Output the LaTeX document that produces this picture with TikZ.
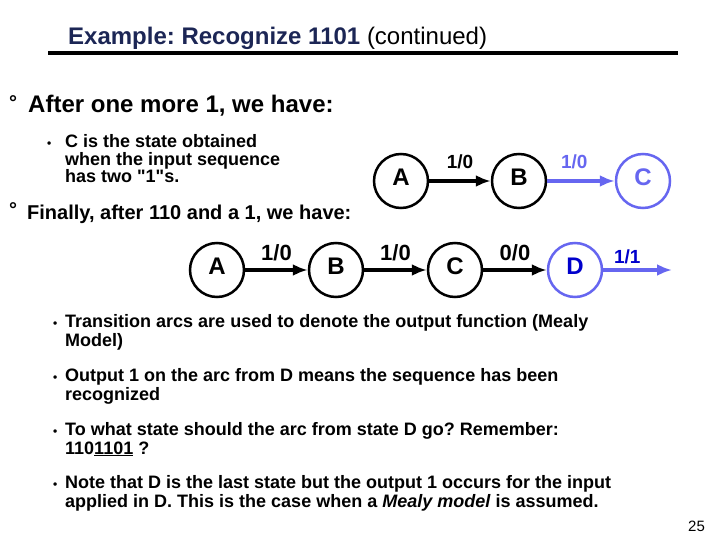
\documentclass[tikz,border=0pt]{standalone}
\usepackage{fontspec}
\setmainfont{Liberation Sans}
\usetikzlibrary{arrows.meta, positioning}

\definecolor{titleblue}{RGB}{28,38,85}
\definecolor{stateblue}{RGB}{102,102,240}
\definecolor{deepblue}{RGB}{0,0,204}

\newcommand{\raiseletter}[1]{\raisebox{4pt}[\height][\depth]{#1}}
\newcommand{\dquote}{\XeTeXglyph\XeTeXglyphindex "quotedbl" }
\frenchspacing

\tikzset{
  state/.style={circle, draw, fill=white, line width=2.5pt, minimum size=54pt,
    inner sep=0pt, font=\fontsize{24}{24}\selectfont\bfseries},
  trans/.style={->, line width=3.5pt},
  lbl/.style={inner sep=1pt, font=\fontsize{22}{22}\selectfont\bfseries},
  txt/.style={anchor=base west, inner sep=0pt, align=left},
  body/.style={txt, font=\fontsize{18}{19}\selectfont\bfseries},
  head/.style={txt, font=\fontsize{20}{20}\selectfont\bfseries},
}

\begin{document}
\begin{tikzpicture}[x=1pt, y=-1pt, >={Latex[length=15pt,width=12pt]}]
    \useasboundingbox (0,0) rectangle (720,540);

    % Titel
    \node[txt, font=\fontsize{24}{24}\selectfont, text=titleblue] (title) at (68,45)
        {\textbf{Example: Recognize 1101} {\color{black}(continued)}};
    \draw[line width=4pt] (48,53) -- (678,53);

    % erster Punkt (Grundlinie der letzten Zeile)
    \node[head] (deg1) at (9,110) {°};
    \node[txt, font=\fontsize{24}{24}\selectfont\bfseries] (after) at (28,113)
        {After one more 1, we have:};
    \node[txt, font=\fontsize{12}{12}\selectfont\bfseries] (dot0) at (47,148) {•};
    \node[body, font=\fontsize{18}{17.5}\selectfont\bfseries] (sub) at (65,183)
        {C is the state obtained\\when the input sequence\\has two \dquote1\dquote s.};

    % Zustaende oben
    \node[state] (a1) at (401,181) {\raiseletter{A}};
    \node[state] (b1) at (519,181) {\raiseletter{B}};
    \node[state, draw=stateblue, text=stateblue] (c1) at (643,181) {\raiseletter{C}};
    \draw[trans] (a1) -- node[lbl, above=9pt, font=\fontsize{19}{19}\selectfont\bfseries] {1/0} (b1);
    \draw[trans, stateblue] (b1) -- node[lbl, above=9pt, pos=0.4, font=\fontsize{19}{19}\selectfont\bfseries] {1/0} (c1);

    % zweiter Punkt
    \node[head] (deg2) at (9,217) {°};
    \node[head] (finally) at (27,220) {Finally, after 110 and a 1, we have:};

    % Zustaende unten
    \node[state] (a2) at (217,270) {\raiseletter{A}};
    \node[state] (b2) at (336,270) {\raiseletter{B}};
    \node[state] (c2) at (455,270) {\raiseletter{C}};
    \node[state, draw=stateblue, text=deepblue] (d2) at (575,270) {\raiseletter{D}};
    \coordinate (out) at (672,270);
    \draw[trans] (a2) -- node[lbl, above=6pt] {1/0} (b2);
    \draw[trans] (b2) -- node[lbl, above=6pt] {1/0} (c2);
    \draw[trans] (c2) -- node[lbl, above=6pt] {0/0} (d2);
    \draw[trans, stateblue] (d2) -- node[lbl, above=3pt, pos=0.35, text=deepblue,
        font=\fontsize{19}{19}\selectfont\bfseries] {1/1} (out);

    % Anmerkungen
    \foreach \y in {327,381,435,488}
        \node[txt, font=\fontsize{12}{12}\selectfont\bfseries] at (53,\y) {•};
    \node[body] (note1) at (65,346)
        {Transition arcs are used to denote the output function (Mealy\\Model)};
    \node[body] (note2) at (65,400)
        {Output 1 on the arc from D means the sequence has been\\recognized};
    \node[body] (note3) at (65,454)
        {To what state should the arc from state D go? Remember:\\110\underline{1101} ?};
    \node[body] (note4) at (65,507)
        {Note that D is the last state but the output 1 occurs for the input\\applied in D. This is the case when a \textit{Mealy model} is assumed.};

    \node[txt, font=\fontsize{15}{15}\selectfont] (page) at (688,531) {25};
\end{tikzpicture}
\end{document}
